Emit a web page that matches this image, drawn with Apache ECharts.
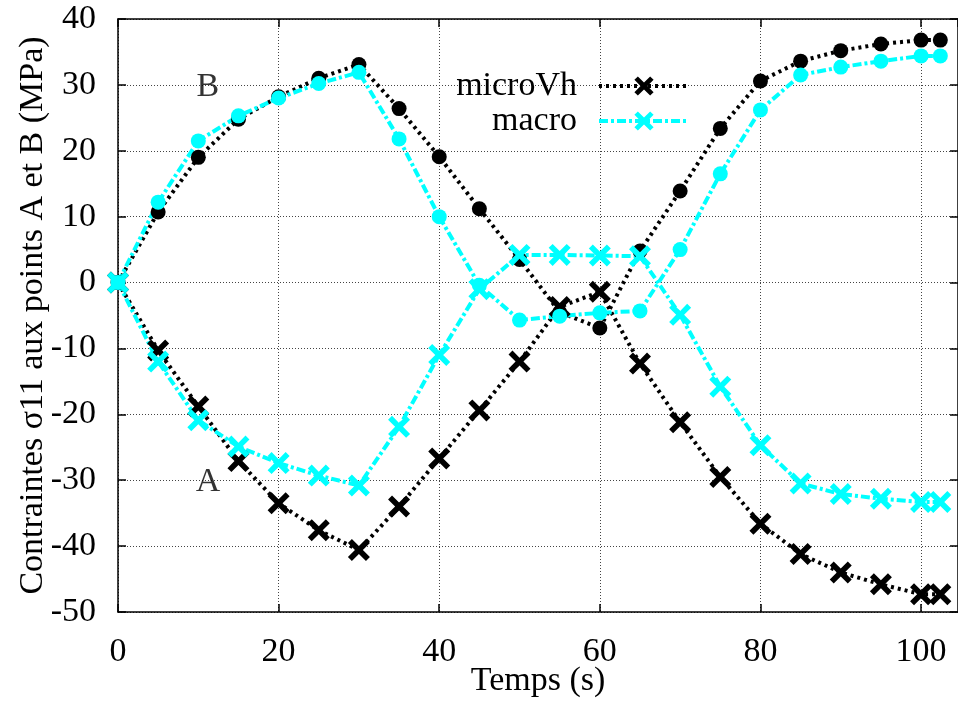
<!DOCTYPE html>
<html>
<head>
<meta charset="utf-8">
<script src="https://cdn.jsdelivr.net/npm/echarts@6/dist/echarts.min.js"></script>
<style>
html,body{margin:0;padding:0;background:#fff;}
#chart{width:958px;height:704px;}
</style>
</head>
<body>
<div id="chart"></div>
<script>
// ---- data ----
var time = [0, 5, 10, 15, 20, 25, 30, 35, 40, 45, 50, 55, 60, 65, 70, 75, 80, 85, 90, 95, 100, 102.4];
var microA = [0, -10.3, -18.8, -27.1, -33.5, -37.6, -40.6, -34.0, -26.7, -19.4, -12.0, -3.7, -1.4, -12.3, -21.2, -29.5, -36.6, -41.2, -44.0, -45.8, -47.3, -47.3];
var microB = [0, 10.7, 19.0, 24.8, 28.2, 31.0, 33.1, 26.4, 19.1, 11.2, 3.5, -4.5, -6.9, 4.8, 13.9, 23.4, 30.6, 33.6, 35.2, 36.2, 36.8, 36.8];
var macroA = [0, -12.0, -20.9, -24.9, -27.4, -29.3, -30.8, -21.9, -11.0, -1.0, 4.2, 4.2, 4.1, 4.0, -4.9, -15.8, -24.7, -30.5, -32.1, -32.8, -33.3, -33.3];
var macroB = [0, 12.2, 21.5, 25.3, 28.0, 30.2, 31.9, 21.8, 10.0, -0.4, -5.7, -5.1, -4.6, -4.3, 5.0, 16.5, 26.2, 31.5, 32.7, 33.6, 34.4, 34.4];
var seriesNames = ['microVh', 'macro'];
var pointLabels = ['B', 'A'];
var pointLabelPos = [[11.2, 29.7], [11.2, -30.3]];
var xTitle = 'Temps (s)';
var yTitle = 'Contraintes \u03C311 aux points A et B (MPa)';

function pairs(ys) { return time.map(function (t, i) { return [t, ys[i]]; }); }

var FONT = 'Liberation Serif';
var FS = 34;
var CROSS = 'path://M0,3.6L3.6,0L10,6.4L16.4,0L20,3.6L13.6,10L20,16.4L16.4,20L10,13.6L3.6,20L0,16.4L6.4,10Z';
var BLACK = '#000000', CYAN = '#00ffff';
var dotted = [3, 4];
var dashDot = [9, 3, 3, 3];

function lineSeries(name, ys, color, dash, symbol, size) {
  return {
    name: name, type: 'line', data: pairs(ys),
    symbol: symbol, symbolSize: size, showAllSymbol: true,
    lineStyle: { color: color, width: 4, type: dash },
    itemStyle: { color: color, opacity: 1 },
    emphasis: { disabled: true }, animation: false
  };
}

var chart = echarts.init(document.getElementById('chart'));
var gridLine = { show: true, lineStyle: { color: '#444', width: 1, type: [1, 2] } };
chart.setOption({
  backgroundColor: '#fff',
  animation: false,
  grid: { left: 118, right: 0, top: 19, bottom: 92, containLabel: false, outerBoundsMode: 'none' },
  legend: {
    data: seriesNames,
    orient: 'vertical', align: 'right',
    right: 262, top: 64,
    itemWidth: 90, itemHeight: 24, itemGap: 1,
    textStyle: { fontFamily: FONT, fontSize: FS, lineHeight: 24, color: '#000', padding: [0, 17, 0, 0] },
    lineStyle: { width: 4 },
    selectedMode: false
  },
  xAxis: [{
    type: 'value', min: 0, max: 104.6, interval: 20, position: 'bottom',
    name: xTitle, nameLocation: 'middle', nameGap: 52, nameMoveOverlap: false,
    nameTextStyle: { fontFamily: FONT, fontSize: FS, color: '#000' },
    axisLine: { show: true, onZero: false, lineStyle: { color: '#000', width: 1.5 } },
    axisTick: { show: true, inside: true, length: 8, lineStyle: { color: '#000', width: 1.5 } },
    axisLabel: { fontFamily: FONT, fontSize: FS, color: '#000', margin: 23, showMaxLabel: false },
    splitLine: gridLine
  }, {
    type: 'value', min: 0, max: 104.6, interval: 20, position: 'top',
    axisLine: { show: true, onZero: false, lineStyle: { color: '#000', width: 1.5 } },
    axisTick: { show: true, inside: true, length: 8, lineStyle: { color: '#000', width: 1.5 } },
    axisLabel: { show: false }, splitLine: { show: false }
  }],
  yAxis: [{
    type: 'value', min: -50, max: 40, interval: 10, position: 'left',
    name: yTitle, nameLocation: 'middle', nameGap: 68, nameMoveOverlap: false,
    nameTextStyle: { fontFamily: FONT, fontSize: FS, color: '#000' },
    axisLine: { show: true, onZero: false, lineStyle: { color: '#000', width: 1.5 } },
    axisTick: { show: true, inside: true, length: 8, lineStyle: { color: '#000', width: 1.5 } },
    axisLabel: { fontFamily: FONT, fontSize: FS, color: '#000', margin: 22 },
    splitLine: gridLine
  }, {
    type: 'value', min: -50, max: 40, interval: 10, position: 'right',
    axisLine: { show: true, onZero: false, lineStyle: { color: '#000', width: 1.5 } },
    axisTick: { show: true, inside: true, length: 8, lineStyle: { color: '#000', width: 1.5 } },
    axisLabel: { show: false }, splitLine: { show: false }
  }],
  series: [
    lineSeries(seriesNames[0], microA, BLACK, dotted, CROSS, 22),
    lineSeries(seriesNames[0], microB, BLACK, dotted, 'circle', 15),
    lineSeries(seriesNames[1], macroA, CYAN, dashDot, CROSS, 22),
    lineSeries(seriesNames[1], macroB, CYAN, dashDot, 'circle', 15),
    {
      name: 'labels', type: 'scatter', symbolSize: 0, silent: true,
      data: pointLabelPos.map(function (p, i) { return { value: p, name: pointLabels[i] }; }),
      label: { show: true, position: 'inside', formatter: '{b}', fontFamily: FONT, fontSize: FS, color: '#000' },
      animation: false
    }
  ]
});
</script>
</body>
</html>
